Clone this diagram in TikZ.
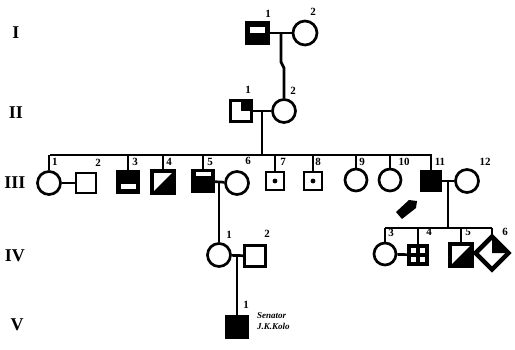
\documentclass[tikz,border=0pt]{standalone}
\usepackage{fontspec}
\setmainfont{Liberation Serif}
\usetikzlibrary{shapes.geometric,calc}
\newcommand{\genfnt}{\fontsize{18}{18}\selectfont\bfseries}
\newcommand{\labfnt}{\fontsize{11}{11}\selectfont\bfseries}
\tikzset{
  ln/.style={line width=2.7pt},
  fem/.style={circle, draw, line width=2.7pt, inner sep=0pt},
  mal/.style={rectangle, draw, line width=2.7pt, inner sep=0pt},
  dia/.style={diamond, draw, line width=3pt, inner sep=0pt, minimum width=32pt, minimum height=32pt},
  lab/.style={font=\labfnt, inner sep=0pt},
  gen/.style={font=\genfnt, inner sep=0pt}
}
\begin{document}
\begin{tikzpicture}[x=1pt,y=-1pt]
\useasboundingbox (0,0) rectangle (515,349);
% generation numerals
\node[gen] (gI) at (16,33) {I};
\node[gen] (gII) at (16,113) {II};
\node[gen] (gIII) at (15,183) {III};
\node[gen] (gIV) at (15,256) {IV};
\node[gen] (gV) at (17,325) {V};

% ---------- Generation I
\node[mal, minimum size=22pt, fill=black] (i1) at (257.5,33) {};
\fill[white] (250,27) rectangle (265,33);
\node[fem, minimum size=24pt] (i2) at (305,33) {};
\draw[ln] (i1) -- (i2);
\coordinate (i12) at (281,33);
\coordinate (k1) at (281,62);
\coordinate (k2) at (284,68);
\node[lab] (li1) at (268,14) {1};
\node[lab] (li2) at (313,12) {2};

% ---------- Generation II
\node[mal, minimum size=21pt] (ii1) at (241,111) {};
\fill[black] (241,100) rectangle (252,111);
\node[fem, minimum size=23pt] (ii2) at (284,111) {};
\draw[ln] (ii1) -- (ii2);
\draw[ln] (i12) -- (k1) -- (k2) -- (ii2.north);
\coordinate (ii12) at (262,111);
\node[lab] (lii1) at (248,90) {1};
\node[lab] (lii2) at (293,91) {2};

% ---------- Generation III
\coordinate (s3a) at (50,155);
\coordinate (s3b) at (432,155);
\draw[ln] (s3a) -- (s3b);
\draw[ln] (ii12) -- (ii12 |- s3a);

\node[fem, minimum size=23pt] (c1) at (49,183) {};
\node[mal, minimum size=20pt] (c2) at (86,183) {};
\node[mal, minimum size=21pt, fill=black] (c3) at (128,182) {};
\fill[white] (121,184) rectangle (136,188.5);
\node[mal, minimum size=20pt] (c4) at (163,182) {};
\fill[black] (c4.south west) -- (c4.south east) -- (c4.north east) -- cycle;
\draw[ln] (c4.south west) rectangle (c4.north east);
\node[mal, minimum size=21.5pt, fill=black] (c5) at (203,181) {};
\fill[white] (196,172) rectangle (210.5,176);
\node[fem, minimum size=23pt] (c6) at (237,183) {};
\node[mal, minimum size=18pt] (c7) at (275,181) {};
\fill (c7.center) circle (2.4pt);
\node[mal, minimum size=18pt] (c8) at (313,181) {};
\fill (c8.center) circle (2.4pt);
\node[fem, minimum size=22pt] (c9) at (356,180) {};
\node[fem, minimum size=22pt] (c10) at (390,180) {};
\node[mal, minimum size=19pt, fill=black] (c11) at (431,181) {};
\node[fem, minimum size=23pt] (c12) at (467,181) {};

\foreach \n in {c1,c3,c4,c5,c7,c8,c9,c10,c11}
  \draw[ln] (\n.north |- s3a) -- (\n.north);
\draw[ln] (c1) -- (c2);
\draw[ln] (c5) -- (c6);
\draw[ln] (c11) -- (c12);
\coordinate (c56) at (219,182);
\coordinate (c1112) at (448,181);

\node[lab] (l1) at (55,162) {1};
\node[lab] (l2) at (98,163) {2};
\node[lab] (l3) at (135,162) {3};
\node[lab] (l4) at (169,162) {4};
\node[lab] (l5) at (210,162) {5};
\node[lab] (l6) at (248,161) {6};
\node[lab] (l7) at (283,162) {7};
\node[lab] (l8) at (318,162) {8};
\node[lab] (l9) at (362,162) {9};
\node[lab] (l10) at (404,162) {10};
\node[lab] (l11) at (440,162) {11};
\node[lab] (l12) at (485,162) {12};

% proband arrow
\fill (396,212) -- (402,219) -- (416,208) -- (417,201) -- (409,200) -- cycle;

% ---------- Generation IV (left)
\node[fem, minimum size=23pt] (iv1) at (219,255) {};
\node[mal, minimum size=20.5pt] (iv2) at (255,256) {};
\draw[ln] (c56) -- (iv1.north);
\draw[ln] (iv1) -- (iv2);
\coordinate (iv12) at (237,256);
\node[lab] (liv1) at (229,235) {1};
\node[lab] (liv2) at (267,234) {2};

% ---------- Generation IV (right)
\coordinate (s4a) at (385,228);
\coordinate (s4b) at (492,228);
\draw[ln] (s4a) -- (s4b);
\draw[ln] (c1112) -- (c1112 |- s4a);
\node[fem, minimum size=22pt] (iv3) at (385,254) {};
\node[mal, minimum size=18.5pt, fill=black] (iv4) at (418,255) {};
\fill[white] (411,248) rectangle (416,253);
\fill[white] (420,248) rectangle (425,253);
\fill[white] (411,257) rectangle (416,262);
\fill[white] (420,257) rectangle (425,262);
\node[mal, minimum size=21pt] (iv5) at (461,255) {};
\fill[black] (iv5.south west) -- (iv5.south east) -- (iv5.north east) -- cycle;
\draw[ln] (iv5.south west) rectangle (iv5.north east);
\node[dia] (iv6) at (492,253) {};
\fill[black] (iv6.north) -- (iv6.east) -- (iv6.center) -- cycle;
\draw[line width=3pt] (iv6.north) -- (iv6.east) -- (iv6.south) -- (iv6.west) -- cycle;
\foreach \n in {iv3,iv4,iv5,iv6}
  \draw[ln] (\n.north |- s4a) -- (\n.north);
\draw[ln] (iv3) -- (iv4);
\node[lab] (liv3) at (391,233) {3};
\node[lab] (liv4) at (429,232) {4};
\node[lab] (liv5) at (468,232) {5};
\node[lab] (liv6) at (505,232) {6};

% ---------- Generation V
\node[mal, minimum size=21.5pt, fill=black] (v1) at (237,327) {};
\draw[ln] (iv12) -- (v1.north);
\node[lab] (lv1) at (246,305) {1};
\node[font=\fontsize{9}{9}\selectfont\bfseries\itshape, inner sep=0pt, anchor=west] (sen) at (257,316) {Senator};
\node[font=\fontsize{9}{9}\selectfont\bfseries\itshape, inner sep=0pt, anchor=west] (jk) at (257,326) {J.K.Kolo};
\end{tikzpicture}
\end{document}
